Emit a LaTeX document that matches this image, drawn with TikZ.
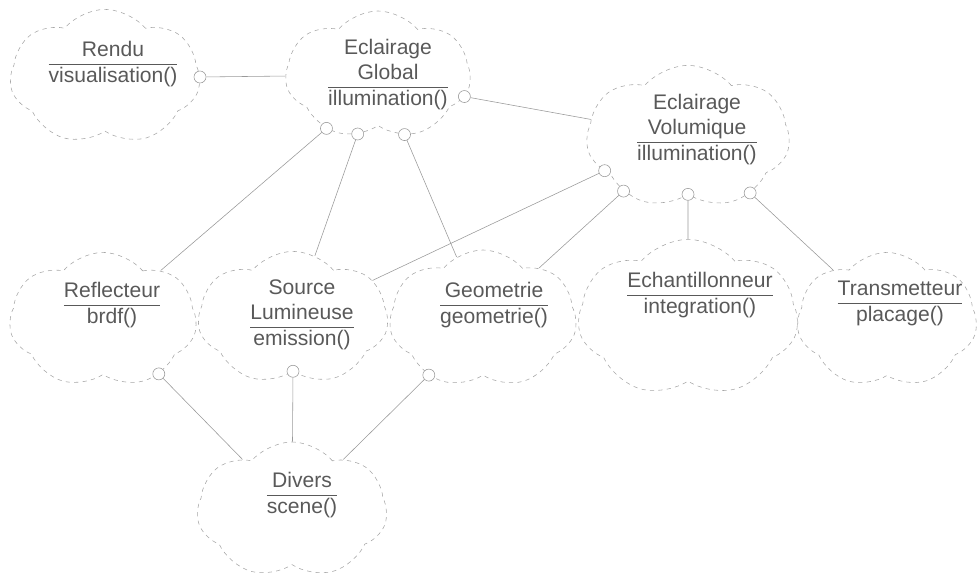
\documentclass[tikz,border=0pt]{standalone}
\usepackage{fontspec}
\setmainfont{Liberation Sans}
\usepackage{tikz}
\usetikzlibrary{shapes,positioning,calc}

\tikzset{
  categ/.style={cloud, cloud puffs=7, cloud puff arc=100, cloud ignores aspect,
    draw=gray!70, dashed, thin, inner sep=0pt},
  nomcat/.style={text=black!65, font=\fontsize{15}{18}\selectfont, inner sep=0pt},
  iface/.style={circle, draw=gray!80, fill=white, thin, minimum size=0.3cm, inner sep=0pt},
  lien/.style={draw=gray!80, thin}
}

\begin{document}
\begin{tikzpicture}[x=0.025cm,y=-0.025cm]
\useasboundingbox (0,0) rectangle (977,579);

% categories (clouds)
\node[categ,minimum width=4.75cm,minimum height=3.38cm] (rendu) at (105,77) {};
\node[categ,minimum width=4.63cm,minimum height=3.2cm] (eg) at (378,75) {};
\node[categ,minimum width=5.08cm,minimum height=3.58cm] (ev) at (688,137) {};
\node[categ,minimum width=4.68cm,minimum height=3.38cm] (refl) at (103,320) {};
\node[categ,minimum width=4.75cm,minimum height=3.33cm] (src) at (293,318) {};
\node[categ,minimum width=4.68cm,minimum height=3.45cm] (geo) at (483,319) {};
\node[categ,minimum width=5.5cm,minimum height=3.93cm] (ech) at (688,318) {};
\node[categ,minimum width=4.5cm,minimum height=3.38cm] (trans) at (887,320) {};
\node[categ,minimum width=4.75cm,minimum height=3.4cm] (div) at (292,510) {};

% names and operations
\node[nomcat] (tRendu) at (113,64) {\begin{tabular}{@{}c@{}}Rendu\\\hline visualisation()\end{tabular}};
\node[nomcat] (tEg) at (388,75) {\begin{tabular}{@{}c@{}}Eclairage\\Global\\\hline illumination()\end{tabular}};
\node[nomcat] (tEv) at (697,130) {\begin{tabular}{@{}c@{}}Eclairage\\Volumique\\\hline illumination()\end{tabular}};
\node[nomcat] (tRefl) at (112,305) {\begin{tabular}{@{}c@{}}Reflecteur\\\hline brdf()\end{tabular}};
\node[nomcat] (tSrc) at (302,315) {\begin{tabular}{@{}c@{}}Source\\Lumineuse\\\hline emission()\end{tabular}};
\node[nomcat] (tGeo) at (494,305) {\begin{tabular}{@{}c@{}}Geometrie\\\hline geometrie()\end{tabular}};
\node[nomcat] (tEch) at (700,295) {\begin{tabular}{@{}c@{}}Echantillonneur\\\hline integration()\end{tabular}};
\node[nomcat] (tTrans) at (900,303) {\begin{tabular}{@{}c@{}}Transmetteur\\\hline placage()\end{tabular}};
\node[nomcat] (tDiv) at (302,495) {\begin{tabular}{@{}c@{}}Divers\\\hline scene()\end{tabular}};

% interfaces, sitting on the cloud outlines
\node[iface] (rc) at (rendu.0) {};
\node[iface] (egR) at (eg.-14) {};
\node[iface] (egA) at (eg.-134) {};
\node[iface] (egB) at (eg.-109) {};
\node[iface] (egC) at (eg.-66) {};
\node[iface] (evA) at (ev.-158) {};
\node[iface] (evB) at (ev.-140) {};
\node[iface] (evC) at (ev.-90) {};
\node[iface] (evD) at (ev.-42) {};
\node[iface] (reflC) at (refl.-44) {};
\node[iface] (srcC) at (src.-90) {};
\node[iface] (geoC) at (geo.-134) {};

% usage links
\draw[lien] (rc) -- (eg);
\draw[lien] (egR) -- (ev);
\draw[lien] (egA) -- (refl);
\draw[lien] (egB) -- (src);
\draw[lien] (egC) -- (geo);
\draw[lien] (evA) -- (src);
\draw[lien] (evB) -- (geo);
\draw[lien] (evC) -- (ech);
\draw[lien] (evD) -- (trans);
\draw[lien] (reflC) -- (div);
\draw[lien] (srcC) -- (div);
\draw[lien] (geoC) -- (div);
\end{tikzpicture}
\end{document}
